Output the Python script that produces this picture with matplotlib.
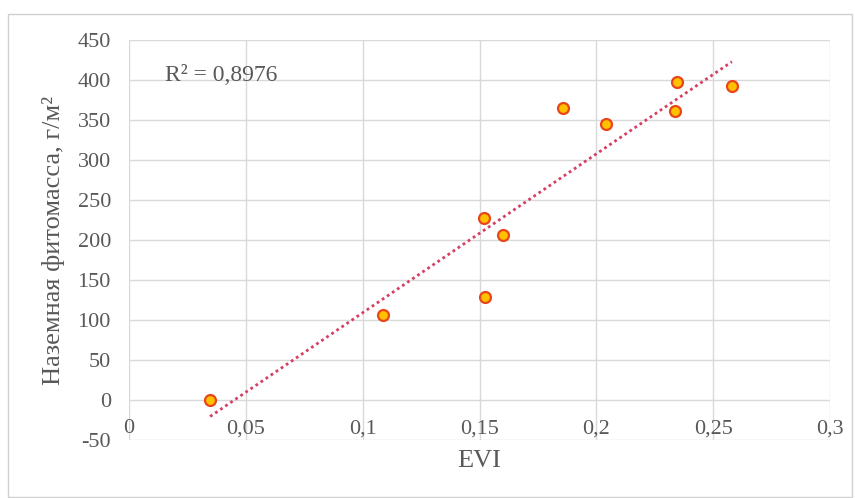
import numpy as np
import matplotlib
matplotlib.use('Agg')
import matplotlib.pyplot as plt
from matplotlib.patches import Rectangle

plt.rcParams.update({
    'font.family': 'serif',
    'font.serif': ['Liberation Serif', 'DejaVu Serif'],
    'axes.unicode_minus': False,
})

# EVI vs above-ground phytomass (g/m2)
evi = [0.0347, 0.1087, 0.1524, 0.1520, 0.1600, 0.1857, 0.2040, 0.2337, 0.2345, 0.2580]
biomass = [0, 106, 129, 227, 206, 365, 345, 361, 397, 392]
r2_text = "R² = 0,8976"
xticks = [0, 0.05, 0.1, 0.15, 0.2, 0.25, 0.3]
xtick_labels = ["0", "0,05", "0,1", "0,15", "0,2", "0,25", "0,3"]
yticks = list(range(-50, 451, 50))

GREY = "#595959"
GRID = "#D9D9D9"

fig = plt.figure(figsize=(8.55, 4.98), dpi=100)
ax = fig.add_axes([0.1509, 0.1165, 0.8199, 0.8032])

# outer chart frame
fig.patches.append(Rectangle((8/855, 0.002), 844/855, (498-14)/498 - 0.002,
                             transform=fig.transFigure, fill=False,
                             edgecolor="#D0D0D0", linewidth=1.0))

x = np.array(evi); y = np.array(biomass)
k, b = np.polyfit(x, y, 1)
xl = np.array([x.min(), x.max()])
ax.plot(xl, k*xl + b, color="#D63E62", linestyle=(0, (1, 1.2)), linewidth=2.0,
        zorder=3)
ax.scatter(x, y, s=62, color="#FFC000", edgecolor="#E8461A", linewidth=1.6,
           zorder=4)

ax.set_xlim(0, 0.3); ax.set_ylim(-50, 450)
ax.set_xticks(xticks); ax.set_xticklabels(xtick_labels)
ax.set_yticks(yticks)
ax.grid(True, color=GRID, linewidth=1.0)
ax.set_axisbelow(True)
for s in ax.spines.values():
    s.set_visible(False)
ax.spines['bottom'].set_position(('data', 0))
ax.tick_params(axis='both', length=0, labelsize=16, labelcolor=GREY)
ax.tick_params(axis='x', pad=14)
ax.tick_params(axis='y', pad=13)

ax.set_xlabel("EVI", fontsize=19, color=GREY)
ax.xaxis.set_label_coords(0.5, -0.025)
ax.set_ylabel("Наземная фитомасса, г/м²", fontsize=19, color=GREY)
ax.yaxis.set_label_coords(-0.092, 0.5)

ax.text(0.0154, 406, r2_text, fontsize=17, color=GREY, va='center', ha='left')

fig.savefig("out.png", dpi=100)
